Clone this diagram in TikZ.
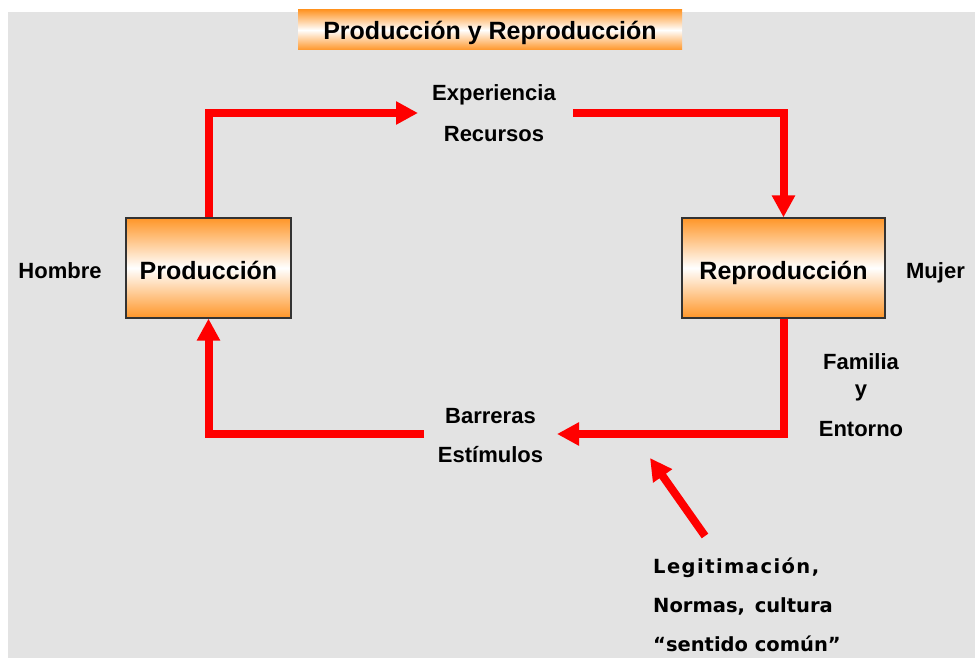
\documentclass[tikz,border=0pt]{standalone}
\usepackage{fontspec}
\setmainfont{Liberation Sans}
\newfontfamily\bloquefont{DejaVu Sans}
\usetikzlibrary{arrows.meta, positioning}
\definecolor{fondo}{RGB}{227,227,227}
\definecolor{naranja}{RGB}{255,150,40}
\definecolor{rojo}{RGB}{255,0,0}
\tikzset{
  caja/.style={
    rectangle, draw=black!80, line width=1.2pt,
    top color=naranja, bottom color=naranja, middle color=white,
    minimum height=100pt, text height=22pt, text depth=0pt,
    font=\bfseries\fontsize{25}{30}\selectfont, inner sep=0pt
  },
  titulo/.style={
    rectangle, top color=naranja, bottom color=naranja, middle color=white,
    minimum width=384pt, minimum height=40pt, text height=18.6pt, text depth=0pt,
    font=\bfseries\fontsize{25}{30}\selectfont, inner sep=0pt
  },
  etiqueta/.style={font=\bfseries\fontsize{22}{26}\selectfont, inner sep=0pt, anchor=base},
  bloque/.style={font=\bloquefont\bfseries\fontsize{19.5}{24}\selectfont, inner sep=0pt, anchor=base west},
  flecha/.style={color=rojo, line width=8pt, -{Triangle[length=22pt, width=22pt]}},
}

\begin{document}
\begin{tikzpicture}[x=1pt, y=-1pt]
\useasboundingbox (0,0) rectangle (975,658);
\fill[fondo] (8,12) rectangle (975,658);

%% ---- TITLE ----
\node[titulo] (tit) at (490,30) {Producción y Reproducción};

%% ---- BOXES ----
\node[caja, minimum width=165pt] (prod)  at (208.5,268) {Producción};
\node[caja, minimum width=203pt] (repro) at (783.5,268) {Reproducción};
\node[etiqueta] (hombre) at (60,278)    {Hombre};
\node[etiqueta] (mujer)  at (935.5,278) {Mujer};

%% ---- FLOWS ----
\node[etiqueta] (exp) at (494,101) {Experiencia};
\node[etiqueta] (rec) at ([yshift=-41pt]exp.base) {Recursos};
\node[etiqueta] (bar) at (490.5,423) {Barreras};
\node[etiqueta] (est) at ([yshift=-39pt]bar.base) {Estímulos};

\node[etiqueta] (fam) at (861,369) {Familia};
\node[etiqueta] (fy)  at ([yshift=-27pt]fam.base) {y};
\node[etiqueta] (ent) at ([yshift=-67pt]fam.base) {Entorno};

\node[bloque] (legit) at (653,573)
  {\hbox to 166pt{L\hfil e\hfil g\hfil i\hfil t\hfil i\hfil m\hfil a\hfil c\hfil i\hfil ó\hfil n\hfil ,}};
\node[bloque] (normas) at ([yshift=-39pt]legit.base west) {Normas,\enspace cultura};
\node[bloque] (sentido) at ([yshift=-39pt]normas.base west) {“sentido común”};

%% ---- ARROWS ----
\coordinate (finExp) at (418,113);
\coordinate (iniRec) at (573,113);
\coordinate (finBar) at (557,434);
\coordinate (iniEst) at (424,434);
\coordinate (colaLeg) at (705,536);
\coordinate (puntaLeg) at (650,458);

\draw[flecha] (prod.north) |- (finExp);
\draw[flecha] (iniRec) -| (repro.north);
\draw[flecha] (repro.south) |- (finBar);
\draw[flecha] (iniEst) -| (prod.south);
\draw[flecha] (colaLeg) -- (puntaLeg);

\end{tikzpicture}
\end{document}
